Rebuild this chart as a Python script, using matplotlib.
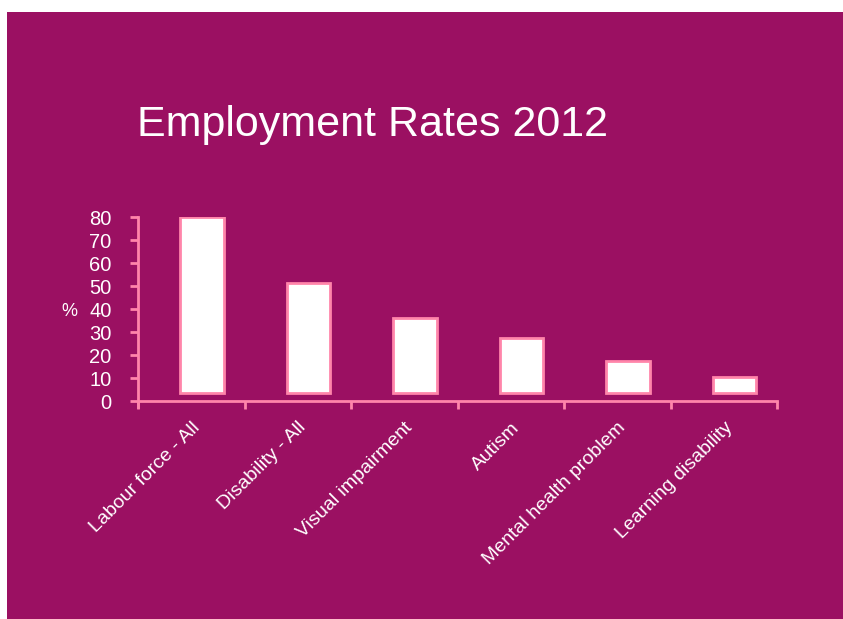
import numpy as np
import matplotlib
matplotlib.use('Agg')
import matplotlib.pyplot as plt
from matplotlib.patches import Rectangle

plt.rcParams['font.family'] = ['Liberation Sans', 'DejaVu Sans']

categories = ['Labour force - All', 'Disability - All', 'Visual impairment',
              'Autism', 'Mental health problem', 'Learning disability']
rates = [80, 51.5, 36, 27.5, 17.5, 10.5]
base = 3.5  # columns float a little above the axis line
yticks = [0, 10, 20, 30, 40, 50, 60, 70, 80]

bg = '#9b1062'
pink = '#ff85aa'

fig = plt.figure(figsize=(8.43, 6.19), dpi=100)
fig.patch.set_facecolor('white')
fig.patches.append(Rectangle((7 / 843, 0), 1, 1 - 12 / 619,
                             transform=fig.transFigure, facecolor=bg,
                             edgecolor='none', zorder=-5))

ax = fig.add_axes([138 / 843, 1 - 407 / 619, (777 - 138) / 843, (407 - 217) / 619])
ax.set_facecolor('none')
ax.set_zorder(2)

x = np.arange(len(categories))
heights = np.array(rates) - base
# columns sit a little right of the category centre
ax.bar(x + 0.1, heights, bottom=base, width=0.41, color='white',
       edgecolor=pink, linewidth=2)

ax.set_xlim(-0.5, len(categories) - 0.5)
ax.set_ylim(-2.6, 80)
ax.spines['bottom'].set_position(('data', 0))
for s in ['top', 'right']:
    ax.spines[s].set_visible(False)
for s in ['left', 'bottom']:
    ax.spines[s].set_color(pink)
    ax.spines[s].set_linewidth(2)

ax.set_yticks(yticks)
ax.set_yticklabels([str(v) for v in yticks], color='white', fontsize=14.5)
ax.set_xticks(np.arange(len(categories) + 1) - 0.5, minor=False)
ax.set_xticklabels([])
ax.set_xticks(x, minor=True)
ax.set_xticklabels(categories, minor=True, rotation=45, ha='right',
                   rotation_mode='anchor', color='white', fontsize=14)
ax.tick_params(axis='x', which='major', length=6, width=2, color=pink, direction='out')
ax.tick_params(axis='x', which='minor', length=0, pad=13)
ax.tick_params(axis='y', length=6, width=2, color=pink, pad=13)

ax.text(-0.108, 0.5, '%', transform=ax.transAxes, color='white', fontsize=13,
        ha='center', va='center')

fig.text(137 / 843, 1 - 125 / 619, 'Employment Rates 2012', color='white',
         fontsize=31, ha='left', va='center')

fig.savefig('out.png', dpi=100, facecolor=fig.get_facecolor())
